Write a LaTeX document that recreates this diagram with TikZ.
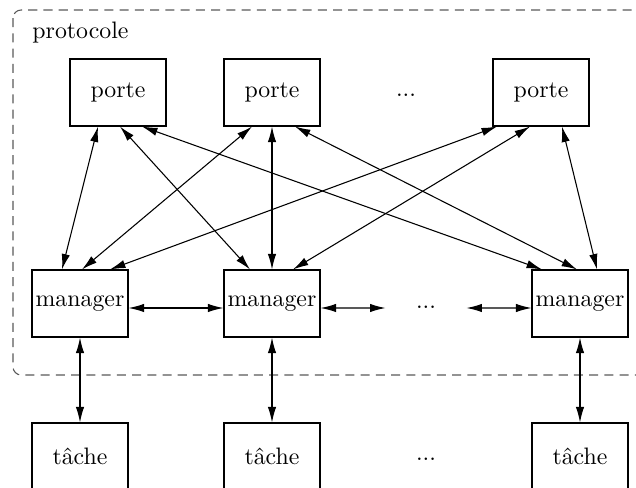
\documentclass[tikz,border=0pt]{standalone}
\usetikzlibrary{arrows.meta,calc}
\begin{document}
\begin{tikzpicture}[x=0.42pt,y=-0.42pt,
  box/.style={draw,line width=0.45pt,minimum width=40.32pt,minimum height=28.14pt,inner sep=0pt,anchor=center},
  dots/.style={inner sep=0pt,anchor=base},
  link/.style={line width=0.45pt,{Latex[length=6.5pt,width=3.5pt]}-{Latex[length=6.5pt,width=3.5pt]}},
  frame/.style={draw=black!65,line width=0.45pt,dash pattern=on 3.8pt off 2.6pt,rounded corners=3.4pt}]
\useasboundingbox (0,0) rectangle (636,488);
\clip (0,0) rectangle (636,488);
\draw[frame] (13,10) rectangle (660,375);
\node[anchor=base west,inner sep=0pt] (proto) at (32,39) {protocole};
% portes
\node[box] (p1) at (118,92.5) {porte};
\node[box] (p2) at (272,92.5) {porte};
\node[box] (p3) at (541,92.5) {porte};
\node[dots] (pd) at (406,97) {...};
% managers
\node[box] (m1) at (80,303.5) {manager};
\node[box] (m2) at (272,303.5) {manager};
\node[box] (m3) at (580,303.5) {manager};
\node[dots,minimum width=33.6pt] (md) at (426,309) {...};
% taches
\node[box] (t1) at (80,456.5) {t\^ache};
\node[box] (t2) at (272,456.5) {t\^ache};
\node[box] (t3) at (580,456.5) {t\^ache};
\node[dots] (td) at (426,460) {...};
% porte - manager
\draw[link] ($(p1.south)+(-20,0)$) -- ($(m1.north)+(-18,0)$);
\draw[link] ($(p1.south)+(2,0)$) -- ($(m2.north)+(-22,0)$);
\draw[link] ($(p1.south)+(24,0)$) -- ($(m3.north)+(-38,0)$);
\draw[link] ($(p2.south)+(-20,0)$) -- ($(m1.north)+(2,0)$);
\draw[link] (p2.south) -- (m2.north);
\draw[link] ($(p2.south)+(23,0)$) -- ($(m3.north)+(-3,0)$);
\draw[link] ($(p3.south)+(-44,0)$) -- ($(m1.north)+(30,0)$);
\draw[link] ($(p3.south)+(-11,0)$) -- ($(m2.north)+(21,0)$);
\draw[link] ($(p3.south)+(21,0)$) -- ($(m3.north)+(17,0)$);
% manager - manager
\draw[link] ($(m1.east)+(0,4.5)$) -- ($(m2.west)+(0,4.5)$);
\draw[link] ($(m2.east)+(0,4.5)$) -- (md.west |- 0,308);
\draw[link] (md.east |- 0,308) -- ($(m3.west)+(0,4.5)$);
% manager - tache
\draw[link] (m1.south) -- (t1.north);
\draw[link] (m2.south) -- (t2.north);
\draw[link] (m3.south) -- (t3.north);
\end{tikzpicture}
\end{document}
